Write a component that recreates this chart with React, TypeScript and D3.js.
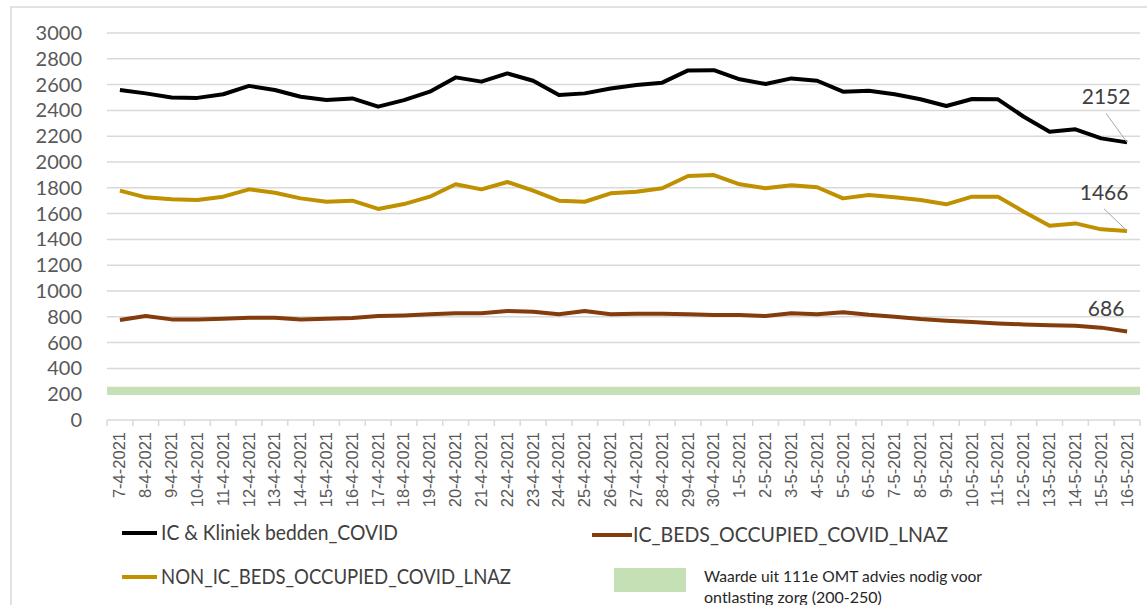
import React from 'react';
import * as d3 from 'd3';

// dates on the x axis
const dates = [
  '7-4-2021', '8-4-2021', '9-4-2021', '10-4-2021', '11-4-2021', '12-4-2021', '13-4-2021', '14-4-2021',
  '15-4-2021', '16-4-2021', '17-4-2021', '18-4-2021', '19-4-2021', '20-4-2021', '21-4-2021', '22-4-2021',
  '23-4-2021', '24-4-2021', '25-4-2021', '26-4-2021', '27-4-2021', '28-4-2021', '29-4-2021', '30-4-2021',
  '1-5-2021', '2-5-2021', '3-5-2021', '4-5-2021', '5-5-2021', '6-5-2021', '7-5-2021', '8-5-2021',
  '9-5-2021', '10-5-2021', '11-5-2021', '12-5-2021', '13-5-2021', '14-5-2021', '15-5-2021', '16-5-2021',
];

const totalBeds = [
  2558, 2532, 2500, 2497, 2525, 2590, 2558, 2506, 2480, 2493, 2429, 2480, 2545, 2656, 2623, 2687,
  2630, 2519, 2532, 2570, 2597, 2615, 2710, 2712, 2641, 2605, 2648, 2630, 2545, 2553, 2525, 2486,
  2434, 2488, 2486, 2351, 2235, 2253, 2183, 2152,
];

const nonIcBeds = [
  1778, 1726, 1711, 1705, 1731, 1788, 1762, 1718, 1692, 1700, 1636, 1674, 1731, 1827, 1788, 1845,
  1778, 1700, 1692, 1757, 1770, 1796, 1891, 1899, 1827, 1796, 1819, 1804, 1718, 1744, 1726, 1705,
  1672, 1731, 1731, 1615, 1506, 1524, 1478, 1466,
];

const icBeds = [
  775, 806, 780, 780, 785, 793, 793, 780, 785, 791, 806, 811, 819, 827, 827, 845,
  840, 819, 845, 819, 824, 824, 819, 814, 814, 806, 827, 819, 835, 815, 801, 783,
  770, 760, 749, 741, 734, 731, 716, 686,
];

const yTicks = [0, 200, 400, 600, 800, 1000, 1200, 1400, 1600, 1800, 2000, 2200, 2400, 2600, 2800, 3000];
const targetBand = [200, 250];

const series = [
  { name: 'IC & Kliniek bedden_COVID', values: totalBeds, color: '#000000' },
  { name: 'NON_IC_BEDS_OCCUPIED_COVID_LNAZ', values: nonIcBeds, color: '#BF9000' },
  { name: 'IC_BEDS_OCCUPIED_COVID_LNAZ', values: icBeds, color: '#843C0C' },
];

const W = 1147;
const H = 605;

export default function App() {
  const x = d3.scaleBand<string>().domain(dates).range([107, 1140]).padding(0);
  const y = d3.scaleLinear().domain([0, 3000]).range([420, 33]);
  const cx = (d: string) => (x(d) as number) + x.bandwidth() / 2;

  const line = d3
    .line<number>()
    .x((_, i) => cx(dates[i]))
    .y((v) => y(v));

  const lastDate = dates[dates.length - 1];
  const font = 'Lato, "Open Sans", sans-serif';

  // end-of-line labels, offsets relative to the last point
  const endLabels = [
    { v: totalBeds[totalBeds.length - 1], dx: -21, dy: -38, leader: true },
    { v: nonIcBeds[nonIcBeds.length - 1], dx: -23, dy: -31, leader: true },
    { v: icBeds[icBeds.length - 1], dx: -21, dy: -16, leader: false },
  ];

  return (
    <svg
      width={W}
      height={H}
      style={{ position: 'absolute', left: 0, top: 0, background: '#fff' }}
    >
      <rect x={11} y={7} width={W} height={H} fill="#fff" stroke="#d9d9d9" strokeWidth={1.5} />

      {/* gridlines */}
      {yTicks.map((t) => (
        <line key={t} x1={107} x2={1140} y1={y(t)} y2={y(t)} stroke="#d9d9d9" strokeWidth={1.5} />
      ))}
      {yTicks.map((t) => (
        <text
          key={'l' + t}
          x={82}
          y={y(t) + 7}
          textAnchor="end"
          fontFamily={font}
          fontSize={20}
          fill="#595959"
        >
          {t}
        </text>
      ))}

      {/* target band 200-250 */}
      <rect
        x={107}
        width={1140 - 107}
        y={y(targetBand[1]) - 1}
        height={y(targetBand[0]) - y(targetBand[1]) + 1.5}
        fill="#C5E0B4"
      />

      {/* x ticks */}
      {dates.concat(['end']).map((d, i) => {
        const xx = i < dates.length ? (x(d) as number) : 1140;
        return <line key={'t' + i} x1={xx} x2={xx} y1={420} y2={426} stroke="#d9d9d9" strokeWidth={1.5} />;
      })}
      {dates.map((d) => (
        <text
          key={'x' + d}
          transform={`translate(${cx(d) + 5.5},${432}) rotate(-90)`}
          textAnchor="end"
          fontFamily='"Liberation Sans", Arial, sans-serif'
          fontSize={16.5}
          fill="#595959"
        >
          {d}
        </text>
      ))}

      {/* lines */}
      {series.map((s) => (
        <path
          key={s.name}
          d={line(s.values) as string}
          fill="none"
          stroke={s.color}
          strokeWidth={4}
          strokeLinejoin="round"
        />
      ))}

      {/* end labels */}
      {endLabels.map((l, i) => {
        const px = cx(lastDate);
        const py = y(l.v);
        return (
          <g key={'e' + i}>
            {l.leader && (
              <line x1={px + l.dx} y1={py + l.dy + 9} x2={px} y2={py} stroke="#a6a6a6" strokeWidth={1} />
            )}
            <text
              x={px + l.dx}
              y={py + l.dy}
              textAnchor="middle"
              fontFamily={font}
              fontSize={21}
              fill="#404040"
            >
              {l.v}
            </text>
          </g>
        );
      })}

      {/* legend */}
      <g fontFamily={font} fontSize={21} fill="#404040">
        <line x1={122} x2={157} y1={533} y2={533} stroke={series[0].color} strokeWidth={4} />
        <text x={161} y={540} textLength={237} lengthAdjust="spacingAndGlyphs">{series[0].name}</text>
        <line x1={592} x2={632} y1={535} y2={535} stroke={series[2].color} strokeWidth={4} />
        <text x={633} y={542} textLength={315} lengthAdjust="spacingAndGlyphs">{series[2].name}</text>
        <line x1={122} x2={157} y1={577} y2={577} stroke={series[1].color} strokeWidth={4} />
        <text x={161} y={584} textLength={350} lengthAdjust="spacingAndGlyphs">{series[1].name}</text>
      </g>
      <rect x={614} y={568} width={72} height={24} fill="#C5E0B4" />
      <g fontFamily={font} fontSize={16} fill="#262626">
        <text x={704} y={582} textLength={278} lengthAdjust="spacingAndGlyphs">Waarde uit 111e OMT advies nodig voor</text>
        <text x={704} y={603}>ontlasting zorg (200-250)</text>
      </g>
    </svg>
  );
}
